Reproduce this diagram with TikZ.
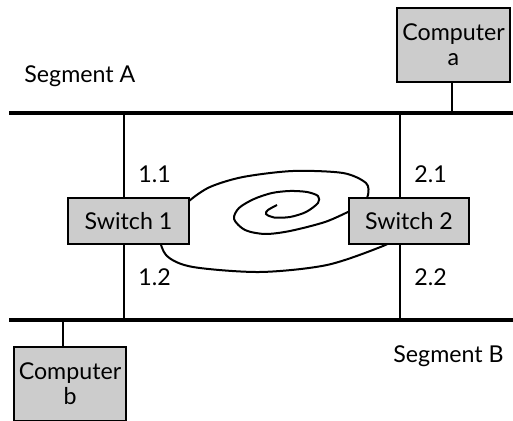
\documentclass[tikz,border=0pt]{standalone}
\usepackage{fontspec}
\setmainfont{Lato}
\usetikzlibrary{calc}
\tikzset{
  unitbox/.style={draw, fill=gray!40, line width=1pt, inner sep=0pt, align=center},
  segline/.style={line width=2.3pt},
  wire/.style={line width=1pt},
  portlbl/.style={anchor=base west, inner sep=0pt},
}
\begin{document}
\begin{tikzpicture}[x=0.5pt,y=-0.5pt,font=\fontsize{11.6}{12.5}\selectfont]
\useasboundingbox (0,0) rectangle (513,421);
\clip (0,0) rectangle (513,421);
% loop between the switches
\draw[wire] plot[smooth, tension=0.5] coordinates {
  (277,205) (268,210) (266,214) (274,217.5) (290,217) (306,212) (318,203)
  (318,196) (307,192) (290,191) (272,193) (254,199) (239,208) (234,219)
  (245,230) (265,234) (290,231) (325,222) (350,211) (362,205)
  (368,195) (366,183) (343,173) (293,171) (243,177) (210,187) (189,201)
  (172,218) (160,236) (167,256) (193,267) (260,272) (327,265) (383,246) (400,236)};
% segments
\coordinate (segAw) at (9,113);
\coordinate (segAe) at (520,113);
\coordinate (segBw) at (9,320);
\coordinate (segBe) at (520,320);
\draw[segline] (segAw) -- (segAe);
\draw[segline] (segBw) -- (segBe);
% switch ports
\coordinate (p1a) at (124,113);
\coordinate (p1b) at (124,320);
\coordinate (p2a) at (400,113);
\coordinate (p2b) at (400,320);
\draw[wire] (p1a) -- (p1b);
\draw[wire] (p2a) -- (p2b);
%
\node[unitbox, minimum width=60.5pt, minimum height=23pt] (sw1) at (128.5,221) {Switch 1};
\node[unitbox, minimum width=60pt, minimum height=23pt] (sw2) at (409,221) {Switch 2};
%
\node[unitbox, minimum width=56.5pt, minimum height=37pt] (compa) at (453.5,45) {Computer\\a};
\node[unitbox, minimum width=56pt, minimum height=37pt] (compb) at (70,384) {Computer\\b};
\coordinate (ca) at (452,113);
\coordinate (cb) at (63,320);
\draw[wire] (ca) -- (ca |- compa.south);
\draw[wire] (cb) -- (cb |- compb.north);
%
\node[portlbl] (l11) at (138,183) {1.1};
\node[portlbl] (l21) at (414,183) {2.1};
\node[portlbl] (l12) at (138,286) {1.2};
\node[portlbl] (l22) at (414,286) {2.2};
%
\node[portlbl] (sega) at (24,83) {Segment A};
\node[portlbl] (segb) at (393,363) {Segment B};
\end{tikzpicture}
\end{document}
